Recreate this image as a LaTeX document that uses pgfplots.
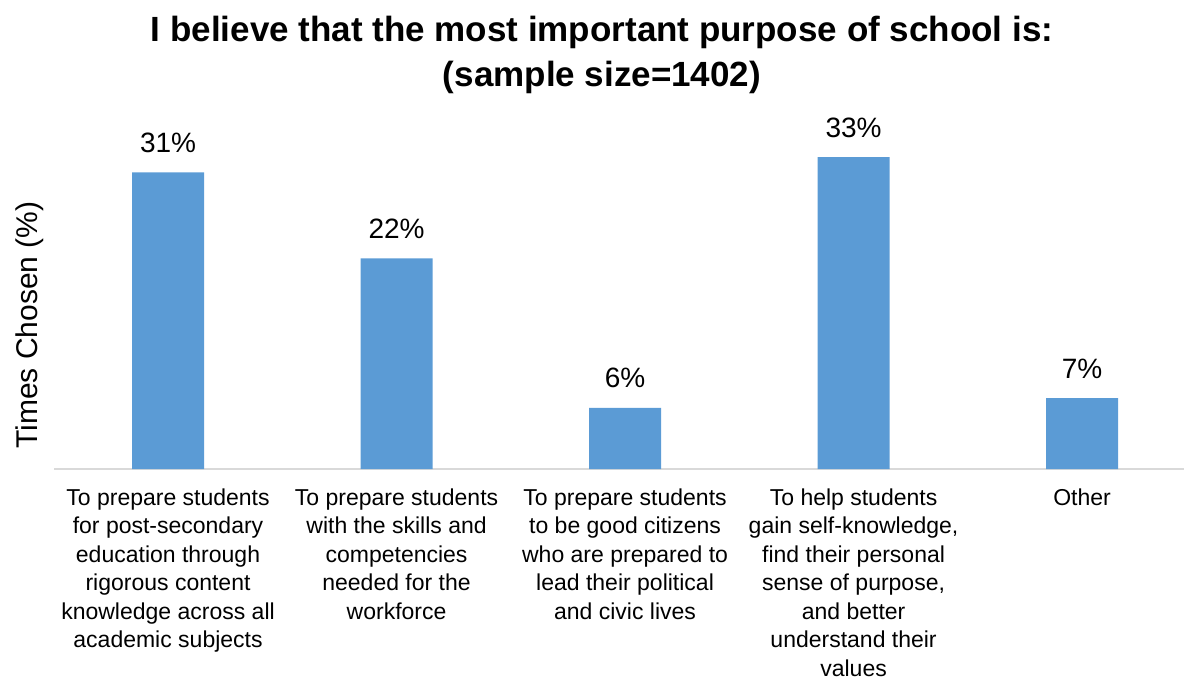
\documentclass[border=0pt]{standalone}
\usepackage{pgfplots}
\pgfplotsset{compat=1.18}
\usepackage{fontspec}
\setmainfont{Liberation Sans}
\definecolor{barblue}{HTML}{5B9BD5}
\definecolor{linegray}{HTML}{D9D9D9}
\begin{document}
\begin{tikzpicture}
\useasboundingbox (0,0) rectangle (1184pt,681pt);
\begin{axis}[
  at={(54pt,212pt)}, anchor=south west,
  scale only axis,
  width=1130pt, height=349pt,
  xmin=-0.499, xmax=4.446,
  ymin=0, ymax=36.47,
  axis x line*=bottom,
  axis y line=none,
  x axis line style={-, draw=linegray, line width=1.5pt},
  xtick={0,1,2,3,4},
  xtick style={draw=none},
  ytick=\empty,
  xticklabels={
    {To prepare students\\for post-secondary\\education through\\rigorous content\\knowledge across all\\academic subjects},
    {To prepare students\\with the skills and\\competencies\\needed for the\\workforce},
    {To prepare students\\to be good citizens\\who are prepared to\\lead their political\\and civic lives},
    {To help students\\gain self-knowledge,\\find their personal\\sense of purpose,\\and better\\understand their\\values},
    {Other}
  },
  xticklabel style={align=center, anchor=north, inner sep=0pt, yshift=-15pt,
    font=\fontsize{23}{28.5}\selectfont},
  ybar,
  bar width=72pt,
  /pgf/number format/assume math mode=true,
  nodes near coords={\pgfmathprintnumber[fixed,precision=0]{\pgfplotspointmeta}\%},
  nodes near coords style={anchor=base, inner sep=0pt, yshift=20pt,
    font=\fontsize{28}{32}\selectfont, text=black},
  clip=false,
]
\addplot[fill=barblue, draw=none] coordinates {
  (0,31.0) (1,22.0) (2,6.4) (3,32.6) (4,7.4)
};
\end{axis}
\node[anchor=base, inner sep=0pt, font=\fontsize{35}{45}\selectfont\bfseries] at (602pt,639pt) {I believe that the most important purpose of school is:};
\node[anchor=base, inner sep=0pt, font=\fontsize{35}{45}\selectfont\bfseries] at (602pt,594pt) {(sample size=1402)};
\node[rotate=90, anchor=base, inner sep=0pt, font=\fontsize{30}{36}\selectfont] at (37pt,356pt) {Times Chosen (\%)};
\end{tikzpicture}
\end{document}
